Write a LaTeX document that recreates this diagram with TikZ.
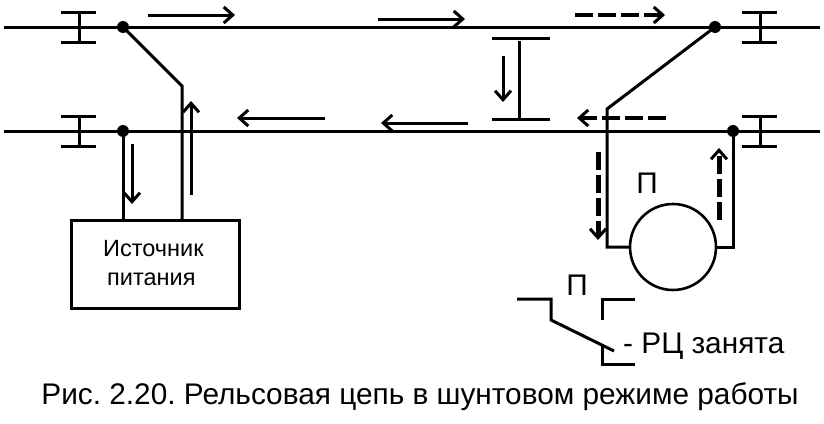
\documentclass[tikz,border=0pt]{standalone}
\usepackage{fontspec}
\setmainfont{Liberation Sans}
\usetikzlibrary{
  arrows.meta,
  calc
}
\tikzset{
  % For fat dots on the rails.
  dot/.style={
    minimum size=12pt,
    inner sep=0pt,
    circle,
    fill},
%
  % For rails and wires.
  line/.style={
    line width=3pt},
%
  % For current directions.
  direction/.style={
    line width=3pt,
    -{Straight Barb[length=9pt,width=16pt,line width=3pt]}},
%
  % For current directions of the relay branch.
  dashed direction/.style={
    direction,
    line width=4pt,
    dash pattern=on 18pt off 5pt},
%
  % For the same, running vertically.
  thick dashed direction/.style={
    dashed direction,
    line width=5pt},
%
  % For the power supply.
  box/.style={
    draw,
    line,
    minimum width=168pt,
    minimum height=88pt,
    outer sep=0pt},
%
  % For the relay coil.
  coil/.style={
    draw,
    circle,
    line width=2.6pt,
    minimum size=86pt,
    inner sep=0pt,
    outer sep=0pt},
%
  % For labels.
  description/.style={
    inner sep=0pt,
    font=\fontsize{29.8pt}{30pt}\selectfont\frenchspacing},
  small description/.style={
    inner sep=0pt,
    anchor=west,
    font=\fontsize{23.5pt}{24pt}\selectfont}
}

\begin{document}
\begin{tikzpicture}[x=1pt,y=-1pt]
  \useasboundingbox (0,0) rectangle (824,423);

  % Rails.
  \coordinate (top start) at (4,27);
  \coordinate (top end) at (820,27);
  \coordinate (low start) at (4,131);
  \coordinate (low end) at (820,131);
  \draw[line] (top start) -- (top end);
  \draw[line] (low start) -- (low end);

  \node[dot] (top left) at (123,27) {};
  \node[dot] (low left) at (123,131) {};
  \node[dot] (top right) at (715,27) {};
  \node[dot] (low right) at (733,131) {};

  % Insulated joints.
  \foreach \name/\x/\y in {a/79/27, b/79/131, c/760/27, d/760/131} {
    \coordinate (joint \name) at (\x,\y);
    \draw[line] ($(joint \name) + (-18,-15)$) -- ($(joint \name) + (17,-15)$);
    \draw[line] ($(joint \name) + (-18,15)$) -- ($(joint \name) + (17,15)$);
    \draw[line] ($(joint \name) + (0,-15)$) -- ($(joint \name) + (0,15)$);
  }

  % Power supply.
  \node[box] (source) at (155,264) {};
  \node[small description] (source top) at (103,249) {Источник};
  \node[small description] (source low) at (107,279) {питания};
  \coordinate (feed bend) at (182,86);
  \draw[line] (top left.center) -- (feed bend) -- (feed bend |- source.north);
  \draw[line] (low left.center) -- (low left |- source.north);

  % Rail jumper.
  \coordinate (jumper top) at (519,41);
  \coordinate (jumper low) at (519,119);
  \draw[line] (492,38) -- (550,38);
  \draw[line] (492,119) -- (550,119);
  \draw[line] (jumper top) -- (jumper low);

  % Relay.
  \node[coil] (relay) at (673,247) {};
  \node[description] (relay name) at (647,183) {П};
  \coordinate (relay bend) at (607,109);
  \draw[line] (top right.center) -- (relay bend) -- (relay bend |- relay.west)
              -- (relay.west);
  \draw[line] (low right.center) |- (relay.east);

  % Contact.
  \node[description] (contact name) at (577,285) {П};
  \coordinate (arm corner) at (551,320);
  \coordinate (arm tip) at (614,351);
  \draw[line] (517,299) -- (551,299) -- (arm corner) -- (arm tip);
  \draw[line] (602,320) -- (602,299) -- (635,299);
  \draw[line] (602,345) -- (602,364) -- (635,364);
  \node[description, anchor=west] (state) at (623,346) {- РЦ занята};

  \node[description] (caption) at (420,397) {Рис. 2.20. Рельсовая цепь в шунтовом режиме работы};

  % Current directions.
  \draw[direction] (148,15) -- (235,15);
  \draw[direction] (378,19) -- (465,19);
  \draw[dashed direction] (575,15) -- (665,15);
  \draw[direction] (325,118) -- (237,118);
  \draw[direction] (468,123) -- (381,123);
  \draw[dashed direction] (666,118) -- (577,118);
  \draw[direction] (191,195) -- (191,101);
  \draw[direction] (132,144) -- (132,204);
  \draw[direction] (503,56) -- (503,102);
  \draw[thick dashed direction] (598,152) -- (598,240);
  \draw[thick dashed direction] (719,220) -- (719,148);
\end{tikzpicture}
\end{document}
